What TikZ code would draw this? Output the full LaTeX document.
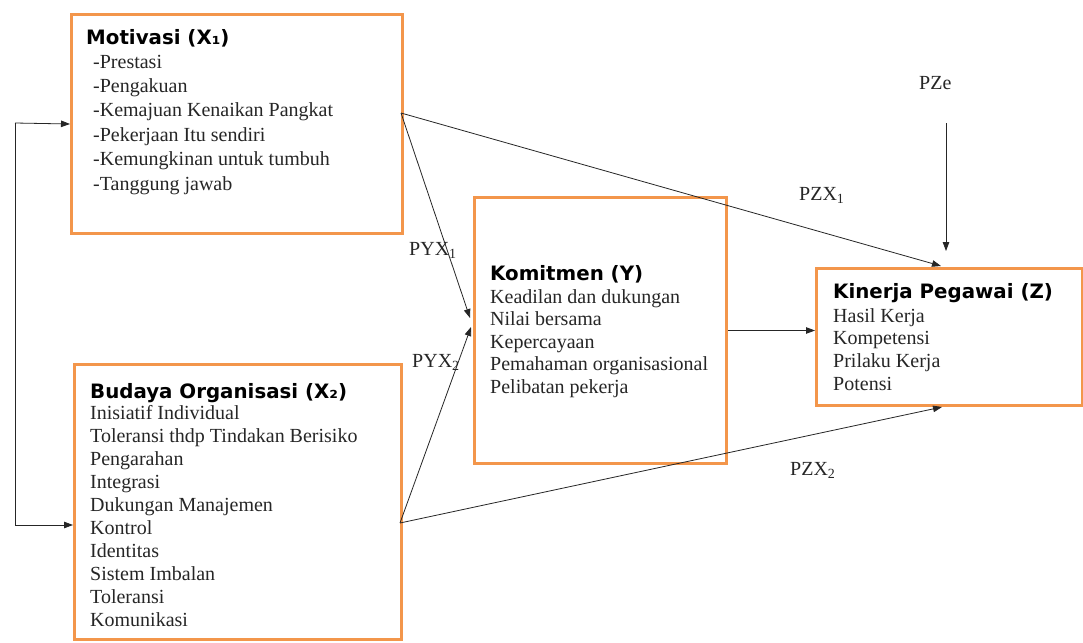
\documentclass[tikz,border=0pt]{standalone}
\usepackage{fontspec}
\setmainfont{Liberation Serif}
\newfontfamily\titlefont{DejaVu Sans}
\usetikzlibrary{arrows.meta,calc}
\definecolor{boxorange}{RGB}{243,150,75}
\begin{document}
\begin{tikzpicture}[x=1pt,y=-1pt,
  box/.style={draw=boxorange, line width=3pt, inner sep=0pt, anchor=north west},
  ttl/.style={font=\titlefont\bfseries\fontsize{19.8}{22}\selectfont, anchor=base west, inner sep=0pt},
  itm/.style={font=\fontsize{20}{23}\selectfont, anchor=base west, inner sep=0pt, text=black!85},
  lbl/.style={font=\fontsize{20}{23}\selectfont, anchor=base west, inner sep=0pt, text=black!85},
  arr/.style={-{Triangle[length=9pt,width=6.5pt]}, line width=0.8pt, draw=black!85}]
\useasboundingbox[fill=white] (0,0) rectangle (1083,642);

% boxes
\node[box, minimum width=331pt, minimum height=219pt] (mot) at (70,13) {};
\node[box, minimum width=327pt, minimum height=275pt] (bud) at (73,363) {};
\node[box, minimum width=252pt, minimum height=266pt] (kom) at (473,196) {};
\node[box, minimum width=266pt, minimum height=137pt] (kin) at (815,267) {};

% Motivasi
\node[ttl] (motT) at (86,45) {Motivasi (X₁)};
\foreach \t [count=\i] in {-Prestasi,-Pengakuan,-Kemajuan Kenaikan Pangkat,-Pekerjaan Itu sendiri,-Kemungkinan untuk tumbuh,-Tanggung jawab}
  \node[itm] (mot\i) at (93,{68+24.4*(\i-1)}) {\t};

% Budaya
\node[ttl] (budT) at (90,398) {Budaya Organisasi (X₂)};
\foreach \t [count=\i] in {Inisiatif Individual,Toleransi thdp Tindakan Berisiko,Pengarahan,Integrasi,Dukungan Manajemen,Kontrol,Identitas,Sistem Imbalan,Toleransi,Komunikasi}
  \node[itm] (bud\i) at (90,{419+23.1*(\i-1)}) {\t};

% Komitmen
\node[ttl] (komT) at (490,280) {Komitmen (Y)};
\foreach \t [count=\i] in {Keadilan dan dukungan,Nilai bersama,Kepercayaan,Pemahaman organisasional,Pelibatan pekerja}
  \node[itm] (kom\i) at (490,{303+22.5*(\i-1)}) {\t};

% Kinerja
\node[ttl] (kinT) at (833,298) {Kinerja Pegawai (Z)};
\foreach \t [count=\i] in {Hasil Kerja,Kompetensi,Prilaku Kerja,Potensi}
  \node[itm] (kin\i) at (833,{322+22.7*(\i-1)}) {\t};

% labels
\node[lbl] (pyx1) at (409,255) {PYX\textsubscript{1}};
\node[lbl] (pyx2) at (412,367) {PYX\textsubscript{2}};
\node[lbl] (pzx1) at (799,200) {PZX\textsubscript{1}};
\node[lbl] (pzx2) at (790,475) {PZX\textsubscript{2}};
\node[lbl] (pze) at (919,89) {PZe};

% connector points
\coordinate (lt) at (15,123);
\coordinate (lb) at (15,525);
\coordinate (mo) at (401,113);
\coordinate (bo) at (400,523);
\coordinate (y1) at (470,318);
\coordinate (y2) at (471,327);
\coordinate (z1) at (941,266);
\coordinate (z2) at (942,407);
\coordinate (es) at (946,123);
\coordinate (ee) at (946,251);

% connectors
\draw[line width=0.8pt, draw=black!85] (lt) -- (lb);
\draw[arr] (lt) -- (mot.west);
\draw[arr] (lb) -- (lb -| bud.west);
\draw[arr] (mo) -- (z1);
\draw[arr] (mo) -- (y1);
\draw[arr] (bo) -- (y2);
\draw[arr] (bo) -- (z2);
\draw[arr] (kom.east) -- (kom.east -| kin.west);
\draw[arr] (es) -- (ee);
\end{tikzpicture}
\end{document}
